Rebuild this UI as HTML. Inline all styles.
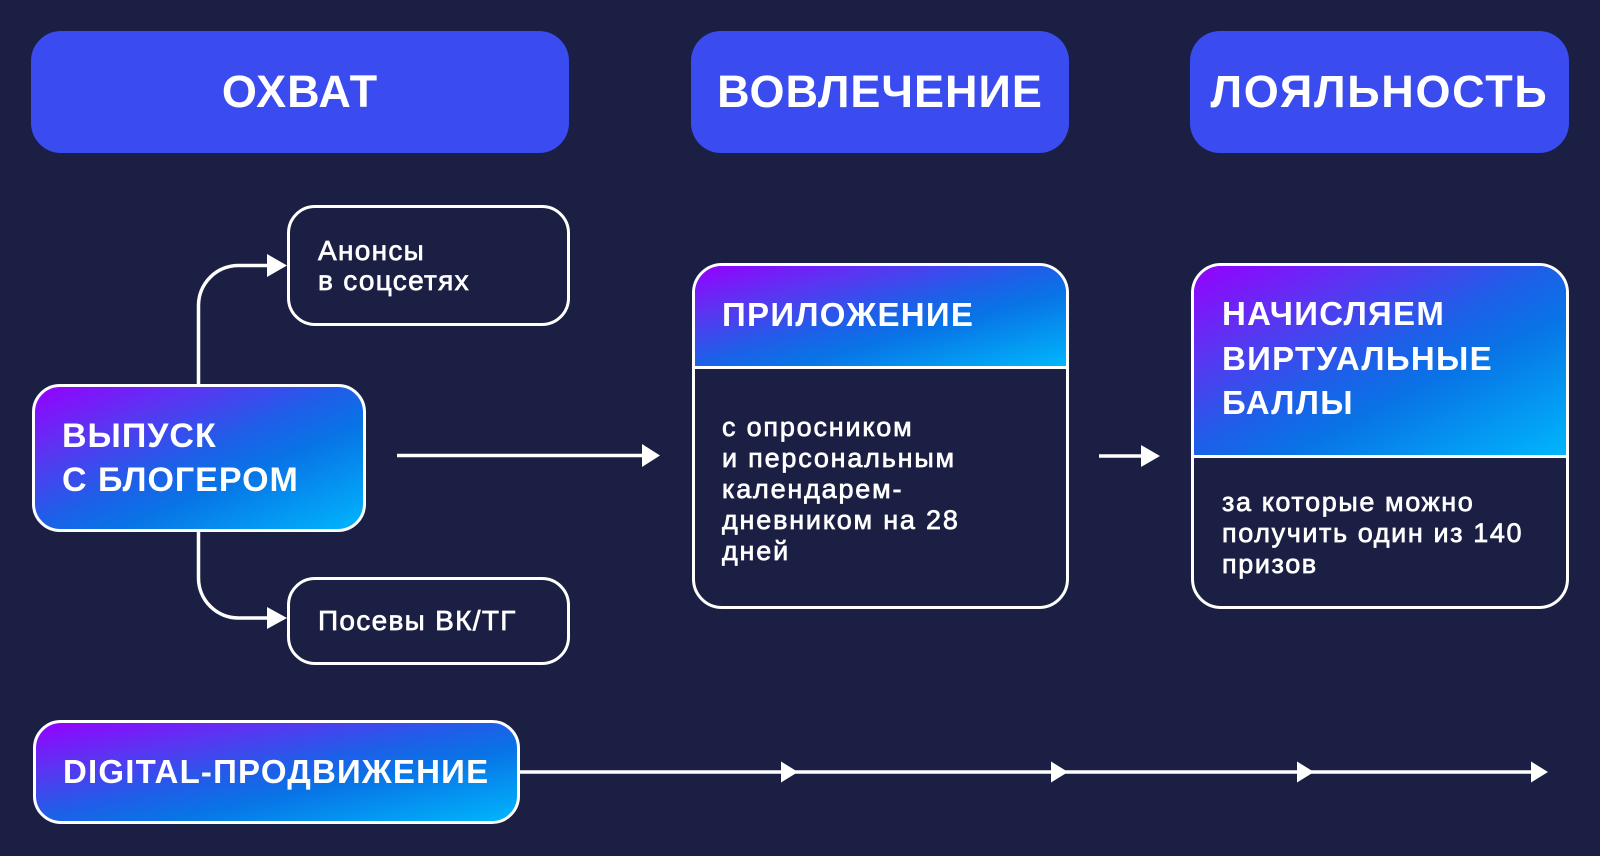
<!DOCTYPE html>
<html><head><meta charset="utf-8">
<style>
*{margin:0;padding:0;box-sizing:border-box}
html,body{width:1600px;height:856px;overflow:hidden;background:#1b1f44}
body{position:relative;font-family:"Liberation Sans","DejaVu Sans",sans-serif;color:#fff}
.hdr{position:absolute;top:31px;height:122px;background:#3a4cef;border-radius:30px;display:flex;align-items:center;justify-content:center;font-weight:bold;font-size:45px;letter-spacing:1px;white-space:nowrap}
.ob{position:absolute;border:3px solid #fff;border-radius:28px;background:#1b1f44}
.gb{position:absolute;border:3px solid #fff;border-radius:28px;background:linear-gradient(to bottom right,#9600ff 0%,#5a35f2 25%,#1e5fe8 48%,#0874e6 63%,#00b6fc 100%)}
.big{position:absolute;border:3px solid #fff;border-radius:30px;background:#1b1f44;overflow:hidden}
.big .g{position:absolute;left:0;top:0;right:0;border-bottom:3px solid #fff;background:linear-gradient(to bottom right,#9600ff 0%,#5a35f2 25%,#1e5fe8 48%,#0874e6 63%,#00b6fc 100%)}
.t{position:absolute;white-space:nowrap}
.title{font-weight:bold;font-size:33px;line-height:44.5px;letter-spacing:1.3px}
.body{font-size:27px;line-height:31px;letter-spacing:1.8px;-webkit-text-stroke:0.7px #fff}
.small{font-size:28px;line-height:29.5px;letter-spacing:1.3px;-webkit-text-stroke:0.7px #fff}
svg{position:absolute;left:0;top:0}
</style></head><body>

<div class="hdr" style="left:31px;width:538px;">ОХВАТ</div>
<div class="hdr" style="left:691px;width:378px;">ВОВЛЕЧЕНИЕ</div>
<div class="hdr" style="left:1190px;width:379px;letter-spacing:1.7px;">ЛОЯЛЬНОСТЬ</div>

<div class="ob" style="left:287px;top:205px;width:283px;height:121px;"></div>
<div class="t small" style="left:318px;top:236px;">Анонсы<br>в соцсетях</div>

<div class="ob" style="left:287px;top:577px;width:283px;height:88px;"></div>
<div class="t small" style="left:318px;top:606px;">Посевы ВК/ТГ</div>

<div class="gb" style="left:32px;top:384px;width:334px;height:148px;"></div>
<div class="t" style="left:62px;top:414px;font-weight:bold;font-size:34px;line-height:44px;letter-spacing:1px;">ВЫПУСК<br>С БЛОГЕРОМ</div>

<div class="big" style="left:692px;top:263px;width:377px;height:346px;"><div class="g" style="height:103px;"></div></div>
<div class="t title" style="left:722px;top:293px;">ПРИЛОЖЕНИЕ</div>
<div class="t body" style="left:722px;top:412px;">с опросником<br>и персональным<br>календарем-<br>дневником на 28<br>дней</div>

<div class="big" style="left:1191px;top:263px;width:378px;height:346px;"><div class="g" style="height:192px;"></div></div>
<div class="t title" style="left:1222px;top:292px;">НАЧИСЛЯЕМ<br>ВИРТУАЛЬНЫЕ<br>БАЛЛЫ</div>
<div class="t body" style="left:1222px;top:487px;letter-spacing:1.6px;">за которые можно<br>получить один из 140<br>призов</div>

<div class="gb" style="left:33px;top:720px;width:487px;height:104px;"></div>
<div class="t" style="left:63px;top:752px;font-weight:bold;font-size:33px;line-height:40px;letter-spacing:1.2px;">DIGITAL-ПРОДВИЖЕНИЕ</div>

<svg width="1600" height="856" viewBox="0 0 1600 856">
<g fill="none" stroke="#fff" stroke-width="3.5">
<path d="M198.5 384 L198.5 305.5 A40 40 0 0 1 238.5 265.5 L268 265.5"/>
<path d="M198.5 532 L198.5 578 A40 40 0 0 0 238.5 618 L268 618"/>
<path d="M397 455.5 L643 455.5"/>
<path d="M1099 456 L1142 456"/>
<path d="M520 772 L1532 772"/>
</g>
<g fill="#fff">
<polygon points="267,254 287,265.5 267,277"/>
<polygon points="267,607 287,618 267,629"/>
<polygon points="642,444 660,455.5 642,467"/>
<polygon points="1141,445 1160,456 1141,467"/>
<polygon points="781,761.5 798,772 781,782.5"/>
<polygon points="1051,761.5 1068,772 1051,782.5"/>
<polygon points="1297,761.5 1314,772 1297,782.5"/>
<polygon points="1531,761.5 1548,772 1531,782.5"/>
</g>
</svg>
</body></html>
